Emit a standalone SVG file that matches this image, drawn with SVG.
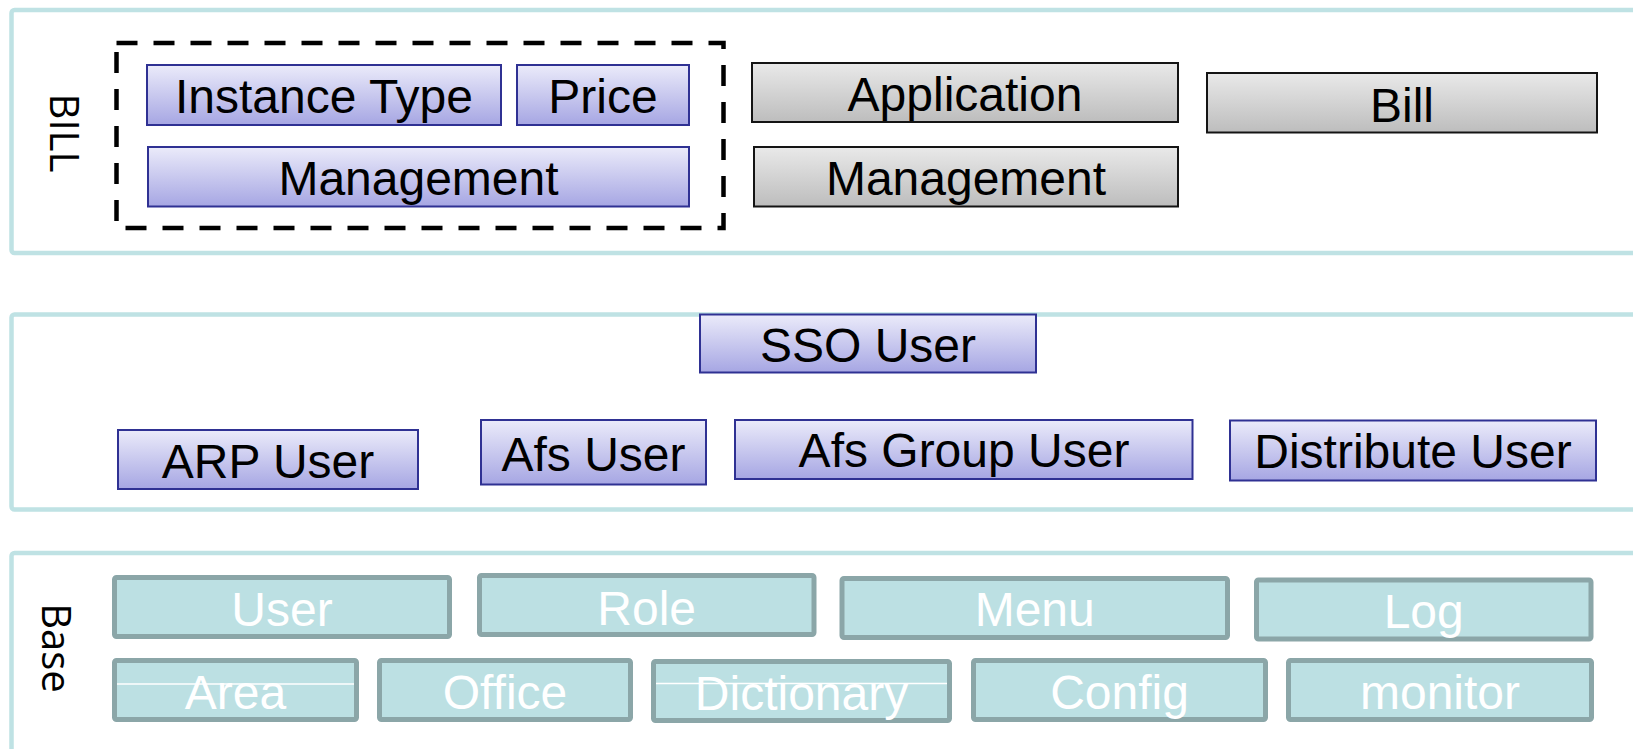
<svg xmlns="http://www.w3.org/2000/svg" width="1633" height="749" viewBox="0 0 1633 749">
<defs>
<linearGradient id="gBlue" x1="0" y1="0" x2="0" y2="1">
<stop offset="0" stop-color="#ebebfa"/>
<stop offset="1" stop-color="#a6a6e3"/>
</linearGradient>
<linearGradient id="gGray" x1="0" y1="0" x2="0" y2="1">
<stop offset="0" stop-color="#e9e9e9"/>
<stop offset="1" stop-color="#bdbdbd"/>
</linearGradient>
</defs>
<style>
.layer{fill:#ffffff;stroke:#bfe2e4;stroke-width:4.5}
.blue{fill:url(#gBlue);stroke:#2f3193;stroke-width:2}
.gray{fill:url(#gGray);stroke:#141414;stroke-width:2}
.base{fill:#bce0e3;stroke:#8ba6a8;stroke-width:5}
.t{font-family:"Liberation Sans",Arial,sans-serif;font-size:48px;text-anchor:middle;fill:#000}
.tw{font-family:"Liberation Sans",Arial,sans-serif;font-size:48px;text-anchor:middle;fill:#ffffff}
.side{font-family:"Open Sans","DejaVu Sans",sans-serif;font-size:40px;text-anchor:middle;dominant-baseline:central;fill:#000}
.dash{fill:none;stroke:#000;stroke-width:4.5;stroke-dasharray:21 16}
.wl{stroke:#ffffff;stroke-width:1.5}
</style>
<g id="layer-bill">
<rect class="layer" x="11.5" y="10" width="1640" height="243" rx="3"/>
<text class="side" transform="translate(65,133) rotate(90)">BILL</text>
</g>
<g id="layer-user">
<rect class="layer" x="11.5" y="314.5" width="1640" height="195" rx="3"/>
</g>
<g id="layer-base">
<rect class="layer" x="11.5" y="553" width="1640" height="220" rx="3"/>
<text class="side" transform="translate(57,648) rotate(90)">Base</text>
</g>
<g id="group-dashed">
<rect class="dash" x="116.5" y="43" width="607" height="185"/>
</g>
<g id="n-instance-type"><rect class="blue" x="147" y="65" width="354" height="60"/><text class="t" x="324" y="112.5">Instance Type</text></g>
<g id="n-price"><rect class="blue" x="517" y="65" width="172" height="60"/><text class="t" x="603" y="112.5">Price</text></g>
<g id="n-management-blue"><rect class="blue" x="148" y="147" width="541" height="59.5"/><text class="t" x="418.5" y="194.5">Management</text></g>
<g id="n-application"><rect class="gray" x="752" y="63" width="426" height="59"/><text class="t" x="965" y="110.5">Application</text></g>
<g id="n-management-gray"><rect class="gray" x="754" y="147" width="424" height="59.5"/><text class="t" x="966" y="194.5">Management</text></g>
<g id="n-bill"><rect class="gray" x="1207" y="73" width="390" height="59.5"/><text class="t" x="1402" y="121.5">Bill</text></g>
<g id="n-sso-user"><rect class="blue" x="700" y="314.5" width="336" height="58"/><text class="t" x="868" y="361.5">SSO User</text></g>
<g id="n-arp-user"><rect class="blue" x="118" y="430" width="300" height="59"/><text class="t" x="268" y="477.5">ARP User</text></g>
<g id="n-afs-user"><rect class="blue" x="481" y="420" width="225" height="64.5"/><text class="t" x="593.5" y="470.5">Afs User</text></g>
<g id="n-afs-group-user"><rect class="blue" x="735" y="420" width="457.5" height="59"/><text class="t" x="964" y="466.5">Afs Group User</text></g>
<g id="n-distribute-user"><rect class="blue" x="1230" y="420.5" width="366" height="60"/><text class="t" x="1413" y="467.5">Distribute User</text></g>
<g id="n-user"><rect class="base" x="114.5" y="577.5" width="335" height="59" rx="2"/><text class="tw" x="282" y="625.5">User</text></g>
<g id="n-role"><rect class="base" x="479.5" y="575.5" width="334.5" height="59" rx="2"/><text class="tw" x="646.7" y="624.5">Role</text></g>
<g id="n-menu"><rect class="base" x="842" y="578.5" width="385.5" height="59" rx="2"/><text class="tw" x="1034.7" y="626">Menu</text></g>
<g id="n-log"><rect class="base" x="1256.5" y="580" width="334.5" height="59" rx="2"/><text class="tw" x="1423.7" y="627.5">Log</text></g>
<g id="n-area"><rect class="base" x="114.5" y="660.5" width="242" height="59" rx="2"/><line class="wl" x1="117" y1="684" x2="354" y2="684"/><text class="tw" x="235.5" y="708.5">Area</text></g>
<g id="n-office"><rect class="base" x="379.5" y="660.5" width="251" height="59" rx="2"/><text class="tw" x="505" y="708.5">Office</text></g>
<g id="n-dictionary"><rect class="base" x="653.5" y="661.5" width="296" height="59" rx="2"/><line class="wl" x1="656" y1="683.5" x2="947" y2="683.5"/><text class="tw" x="801.5" y="709.5">Dictionary</text></g>
<g id="n-config"><rect class="base" x="973.5" y="660.5" width="292" height="59" rx="2"/><text class="tw" x="1119.5" y="708.5">Config</text></g>
<g id="n-monitor"><rect class="base" x="1288.5" y="660.5" width="303" height="59" rx="2"/><text class="tw" x="1440" y="708.5">monitor</text></g>
<g id="connectors"></g>
</svg>
